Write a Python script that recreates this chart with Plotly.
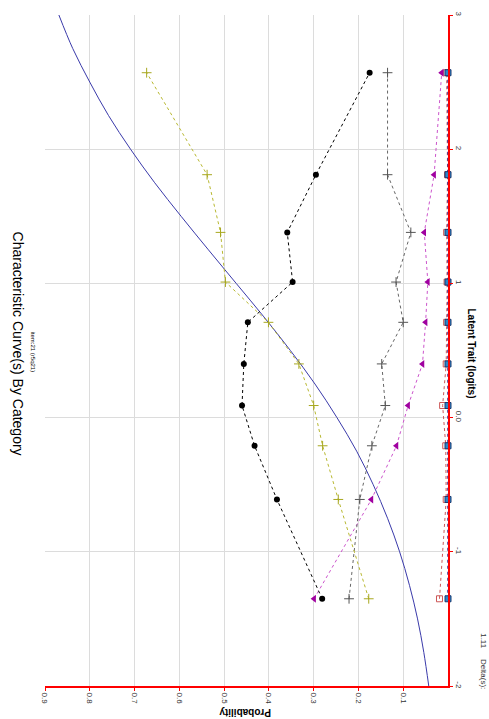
import plotly.graph_objects as go

# ---------------- data ----------------
trait_points = [-1.35, -0.61, -0.21, 0.09, 0.40, 0.71, 1.01, 1.38, 1.81, 2.57]

cat_black = [0.281, 0.382, 0.432, 0.460, 0.456, 0.447, 0.347, 0.359, 0.295, 0.175]
cat_olive = [0.177, 0.245, 0.280, 0.300, 0.333, 0.401, 0.497, 0.508, 0.538, 0.673]
cat_gray = [0.221, 0.197, 0.170, 0.140, 0.148, 0.100, 0.116, 0.083, 0.135, 0.135]
cat_magenta = [0.299, 0.171, 0.115, 0.089, 0.057, 0.050, 0.045, 0.053, 0.031, 0.014]
cat_red = [0.019, 0.004, 0.005, 0.012, 0.004, 0.003, 0.002, 0.003, 0.001, 0.003]
cat_blue = [0.0, 0.0, 0.0, 0.0, 0.0, 0.0, 0.0, 0.0, 0.0, 0.0]

curve_trait = [-2.0, -1.75, -1.5, -1.25, -1.0, -0.75, -0.5, -0.25, 0.0, 0.25, 0.5,
               0.75, 1.0, 1.25, 1.5, 1.75, 2.0, 2.25, 2.5, 2.75, 3.0]
curve_prob = [0.043, 0.054, 0.068, 0.086, 0.108, 0.135, 0.167, 0.204, 0.248, 0.297, 0.352,
              0.411, 0.473, 0.535, 0.596, 0.655, 0.709, 0.758, 0.800, 0.838, 0.869]

prob_ticks = [0.1, 0.2, 0.3, 0.4, 0.5, 0.6, 0.7, 0.8, 0.9]
prob_labels = ["0.1", "0.2", "0.3", "0.4", "0.5", "0.6", "0.7", "0.8", "0.9"]
trait_ticks = [-2, -1, 0, 1, 2, 3]
trait_labels = ["-2", "-1", "0.0", "1", "2", "3"]

title_text = "Characteristic Curve(s) By Category"
subtitle_text = "item:21 (r5q21)"
delta_label = "Delta(s):"
delta_value = "1.11"

# ---------------- figure ----------------
W, H = 489, 719
L, T = 45, 12
R = W - 448
B = H - 686

fig = go.Figure()

fig.add_trace(go.Scatter(x=curve_prob, y=curve_trait, mode="lines", line_shape="spline",
                         line=dict(color="#3a3aaa", width=1), showlegend=False))

fig.add_trace(go.Scatter(x=cat_red, y=trait_points, mode="lines+markers", cliponaxis=False,
                         line=dict(color="#cc5555", width=1, dash="dot"),
                         marker=dict(symbol="square-open", size=6, color="#cc5555",
                                     line=dict(width=1)), showlegend=False))
fig.add_trace(go.Scatter(x=cat_blue, y=trait_points, mode="lines+markers", cliponaxis=False,
                         line=dict(color="#3a2a90", width=1.5, dash="dot"),
                         marker=dict(symbol="square", size=6, color="#2f86c8",
                                     line=dict(color="#1a3a70", width=1)), showlegend=False))
fig.add_trace(go.Scatter(x=cat_magenta, y=trait_points, mode="lines+markers", cliponaxis=False,
                         line=dict(color="#cc55cc", width=1, dash="dot"),
                         marker=dict(symbol="triangle-left", size=7, color="#a000a0"),
                         showlegend=False))
fig.add_trace(go.Scatter(x=cat_gray, y=trait_points, mode="lines+markers",
                         line=dict(color="#666666", width=1, dash="dot"),
                         marker=dict(symbol="cross-thin", size=7,
                                     line=dict(color="#555555", width=1)),
                         showlegend=False))
fig.add_trace(go.Scatter(x=cat_olive, y=trait_points, mode="lines+markers",
                         line=dict(color="#b8b830", width=1, dash="dot"),
                         marker=dict(symbol="cross-thin", size=7,
                                     line=dict(color="#a8a820", width=1)),
                         showlegend=False))
fig.add_trace(go.Scatter(x=cat_black, y=trait_points, mode="lines+markers",
                         line=dict(color="#000000", width=1, dash="dot"),
                         marker=dict(symbol="circle", size=6, color="#000000"),
                         showlegend=False))

tick_font = dict(family="Liberation Sans Narrow, Liberation Sans, Arial", size=8, color="#333333")

fig.update_xaxes(range=[0.9, 0.0], tickvals=prob_ticks, ticktext=prob_labels,
                 tickangle=90, tickfont=tick_font,
                 showgrid=True, gridcolor="#dcdcdc", gridwidth=1, zeroline=False,
                 showline=True, linecolor="#ff0000", linewidth=2,
                 ticks="outside", tickcolor="#ff0000", ticklen=3, tickwidth=1)
fig.update_yaxes(range=[-2, 3], tickvals=trait_ticks, ticktext=trait_labels,
                 side="right", tickangle=90, tickfont=tick_font,
                 showgrid=True, gridcolor="#dcdcdc", gridwidth=1, zeroline=False,
                 showline=True, linecolor="#ff0000", linewidth=2,
                 ticks="outside", tickcolor="#ff0000", ticklen=3, tickwidth=1)


def px_to_paper(px, py):
    return (px - L) / (W - L - R), (H - B - py) / (H - T - B)


annots = []
def add_text(text, px, py, size, angle, bold=False, color="#000000"):
    x, y = px_to_paper(px, py)
    annots.append(dict(text=("<b>%s</b>" % text) if bold else text, x=x, y=y,
                       xref="paper", yref="paper", showarrow=False, textangle=angle,
                       xanchor="center", yanchor="middle",
                       font=dict(family="Liberation Sans, Arial", size=size, color=color)))

add_text(title_text, 18, 342, 14, 90)
add_text(subtitle_text, 33, 350, 6, 90)
add_text("Latent Trait (logits)", 472, 352, 10, 90, bold=True)
add_text("Probability", 245, 712, 10, 180, bold=True)
add_text(delta_label, 484, 674, 8, 90, color="#333333")
add_text(delta_value, 484, 641, 8, 90, color="#333333")

fig.update_layout(width=W, height=H, margin=dict(l=L, r=R, t=T, b=B, pad=0),
                  plot_bgcolor="#ffffff", paper_bgcolor="#ffffff",
                  annotations=annots, showlegend=False)

fig.write_html("out.html", config={"displayModeBar": False},
               post_script="document.body.style.margin='0';"
                           "document.body.style.overflow='hidden';")
